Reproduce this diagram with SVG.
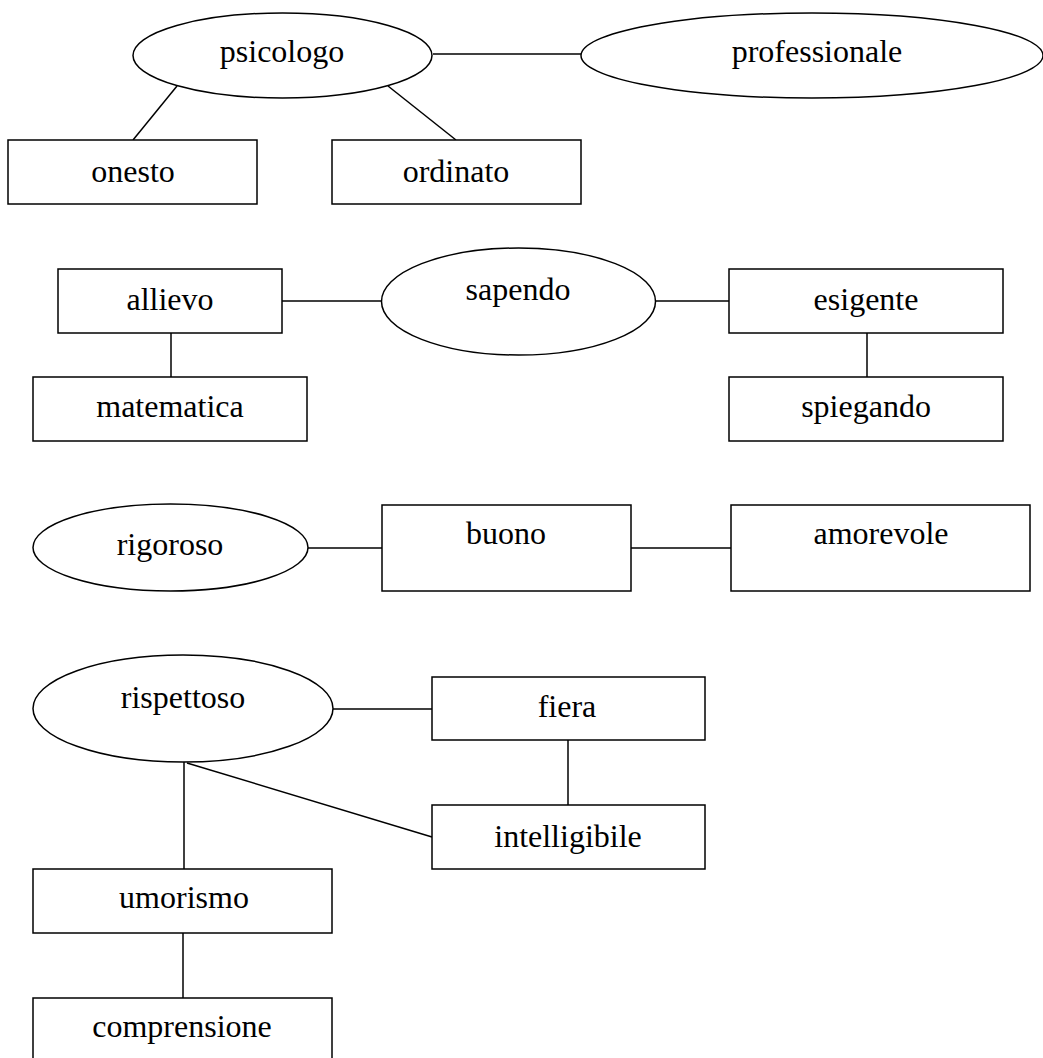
<svg xmlns="http://www.w3.org/2000/svg" width="1043" height="1058" viewBox="0 0 1043 1058">
<style>
.s{fill:#fff;stroke:#000;stroke-width:1.5}
.c line{stroke:#000;stroke-width:1.5}
text{font-family:"Liberation Serif","Times New Roman",serif;font-size:32px;fill:#000;text-anchor:middle}
</style>
<rect width="1043" height="1058" fill="#fff"/>
<g class="c" id="connectors">
<line x1="433" y1="54" x2="581" y2="54"/>
<line x1="177" y1="86" x2="133" y2="140"/>
<line x1="388" y1="86" x2="456" y2="140"/>
<line x1="282" y1="301" x2="382" y2="301"/>
<line x1="171" y1="333" x2="171" y2="377"/>
<line x1="655" y1="301" x2="729" y2="301"/>
<line x1="867" y1="333" x2="867" y2="377"/>
<line x1="308" y1="548" x2="382" y2="548"/>
<line x1="631" y1="548" x2="731" y2="548"/>
<line x1="333" y1="709" x2="432" y2="709"/>
<line x1="568" y1="740" x2="568" y2="805"/>
<line x1="187" y1="763" x2="432" y2="837"/>
<line x1="184" y1="762" x2="184" y2="869"/>
<line x1="183" y1="933" x2="183" y2="998"/>
</g>
<g id="psicologo"><ellipse class="s" cx="282.5" cy="55.5" rx="149.5" ry="42.5"/><text x="282" y="62">psicologo</text></g>
<g id="professionale"><ellipse class="s" cx="812" cy="55.5" rx="231" ry="42.5"/><text x="817" y="62">professionale</text></g>
<g id="onesto"><rect class="s" x="8" y="140" width="249" height="64"/><text x="133" y="182">onesto</text></g>
<g id="ordinato"><rect class="s" x="332" y="140" width="249" height="64"/><text x="456" y="182">ordinato</text></g>
<g id="allievo"><rect class="s" x="58" y="269" width="224" height="64"/><text x="170" y="310">allievo</text></g>
<g id="matematica"><rect class="s" x="33" y="377" width="274" height="64"/><text x="170" y="417">matematica</text></g>
<g id="sapendo"><ellipse class="s" cx="518.5" cy="301.5" rx="137" ry="53.5"/><text x="518" y="300">sapendo</text></g>
<g id="esigente"><rect class="s" x="729" y="269" width="274" height="64"/><text x="866" y="310">esigente</text></g>
<g id="spiegando"><rect class="s" x="729" y="377" width="274" height="64"/><text x="866" y="417">spiegando</text></g>
<g id="rigoroso"><ellipse class="s" cx="170.5" cy="547.5" rx="137.5" ry="43.5"/><text x="170" y="555">rigoroso</text></g>
<g id="buono"><rect class="s" x="382" y="505" width="249" height="86"/><text x="506" y="544">buono</text></g>
<g id="amorevole"><rect class="s" x="731" y="505" width="299" height="86"/><text x="881" y="544">amorevole</text></g>
<g id="rispettoso"><ellipse class="s" cx="183" cy="708.5" rx="150" ry="53.5"/><text x="183" y="708">rispettoso</text></g>
<g id="fiera"><rect class="s" x="432" y="677" width="273" height="63"/><text x="567" y="717">fiera</text></g>
<g id="intelligibile"><rect class="s" x="432" y="805" width="273" height="64"/><text x="568" y="847">intelligibile</text></g>
<g id="umorismo"><rect class="s" x="33" y="869" width="299" height="64"/><text x="184" y="908">umorismo</text></g>
<g id="comprensione"><rect class="s" x="33" y="998" width="299" height="66"/><text x="182" y="1037">comprensione</text></g>
</svg>
